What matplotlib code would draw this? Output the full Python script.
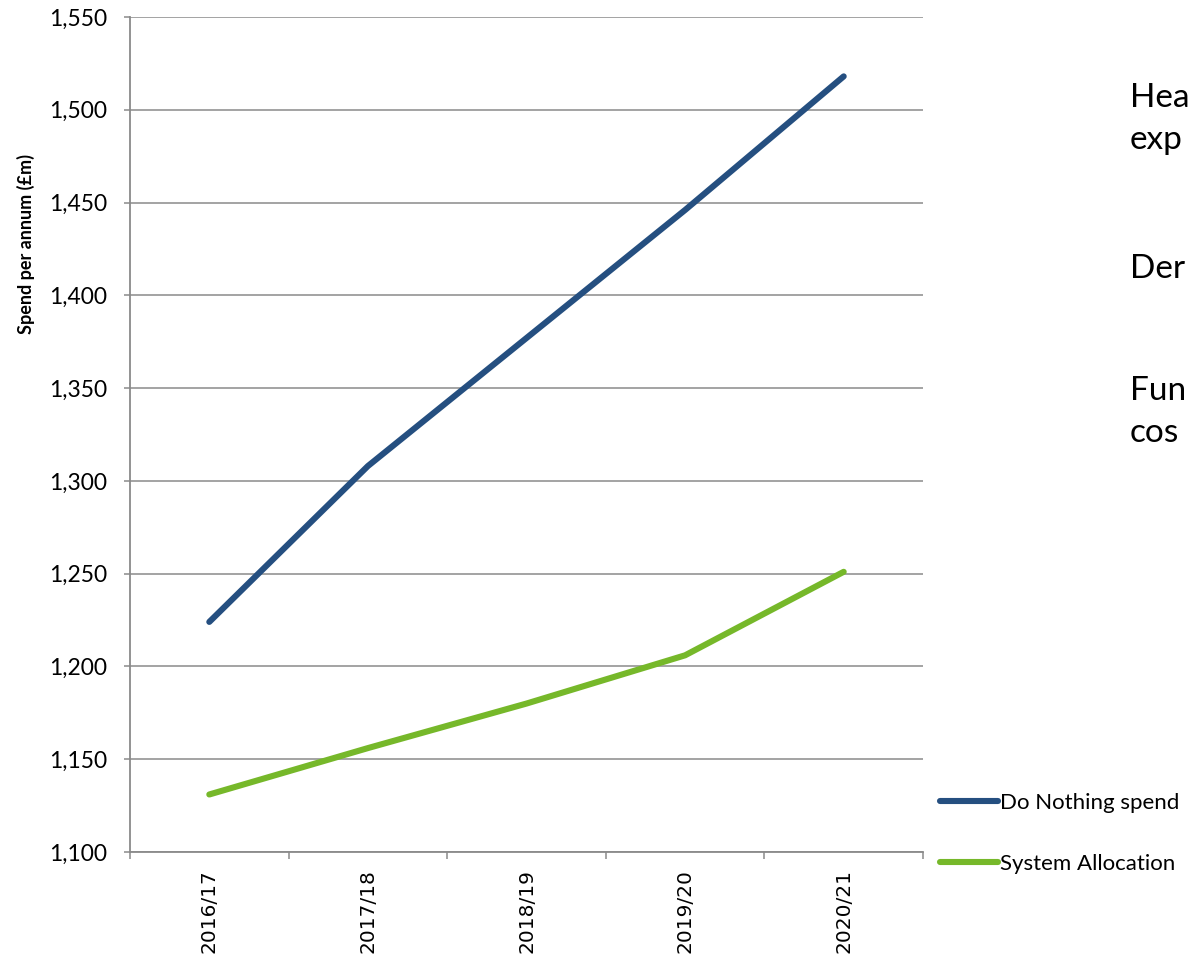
import matplotlib
matplotlib.use("Agg")
import matplotlib.pyplot as plt
from matplotlib.ticker import FuncFormatter, FixedLocator

# Financial years and spend per annum (£m)
years = ["2016/17", "2017/18", "2018/19", "2019/20", "2020/21"]
do_nothing = [1224, 1308, 1377, 1446, 1518]
system_allocation = [1131, 1156, 1180, 1206, 1251]
series_names = ["Do Nothing spend", "System Allocation"]
y_ticks = [1100, 1150, 1200, 1250, 1300, 1350, 1400, 1450, 1500, 1550]

# Side note lines, as far as they show at the right-hand edge
note_lines = ["Hea", "exp", "Der", "Fun", "cos"]
note_baselines_px = [107, 149, 278, 400, 442]

BLUE = "#254f80"
GREEN = "#76b82a"
GRID = "#8a8a8a"

W, H = 1191, 963
fig = plt.figure(figsize=(W / 100, H / 100), dpi=100)
ax = fig.add_axes([130 / W, 1 - 852 / H, (923 - 130) / W, (852 - 17) / H])

x = list(range(len(years)))
ax.plot(x, do_nothing, color=BLUE, lw=4.4, solid_capstyle="round",
        solid_joinstyle="round", label=series_names[0], zorder=3)
ax.plot(x, system_allocation, color=GREEN, lw=4.4, solid_capstyle="round",
        solid_joinstyle="round", label=series_names[1], zorder=3)

ax.set_xlim(-0.5, len(years) - 0.5)
ax.set_ylim(y_ticks[0], y_ticks[-1])
ax.set_yticks(y_ticks)
ax.yaxis.set_major_formatter(FuncFormatter(lambda v, p: f"{int(v):,}"))
ax.grid(axis="y", color=GRID, lw=1.1, zorder=0)

ax.set_xticks(x)
ax.set_xticklabels(years, rotation=90, fontsize=14.5, family="DejaVu Sans")
ax.xaxis.set_minor_locator(FixedLocator([i - 0.5 for i in range(len(years) + 1)]))
ax.tick_params(axis="x", which="major", length=0, pad=12.5)
ax.tick_params(axis="x", which="minor", length=5, width=1.1, color=GRID, direction="out")
ax.tick_params(axis="y", length=4.3, width=1.1, color=GRID, direction="out", pad=12)
for lbl in ax.get_yticklabels():
    lbl.set_family("Lato")
    lbl.set_fontsize(16.5)

for s in ["top", "right"]:
    ax.spines[s].set_visible(False)
for s in ["left", "bottom"]:
    ax.spines[s].set_color(GRID)
    ax.spines[s].set_linewidth(1.3)

ax.set_ylabel("Spend per annum (£m)", family="Lato", fontweight="bold", fontsize=13)
ax.yaxis.set_label_coords(-0.1198, 0.728)

fig.legend(loc="upper left", bbox_to_anchor=(940 / W, 1 - 793 / H),
           frameon=False, prop={"family": "Lato", "size": 16},
           handlelength=2.6, handletextpad=0.1, labelspacing=1.85,
           borderaxespad=0, borderpad=0)

for txt, yb in zip(note_lines, note_baselines_px):
    fig.text(1130 / W, 1 - yb / H, txt, family="Lato", fontsize=24,
             va="baseline", ha="left")

fig.savefig("out.png", dpi=100)
